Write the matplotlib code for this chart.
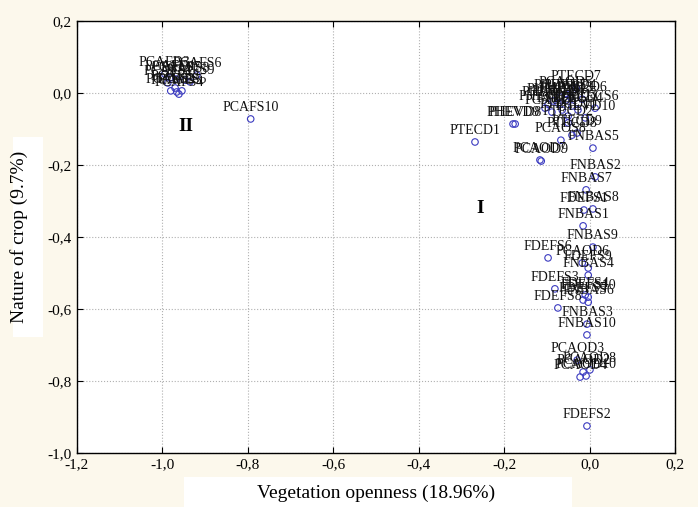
import numpy as np
import matplotlib.pyplot as plt
from matplotlib.patches import Rectangle
from matplotlib.ticker import FuncFormatter, MultipleLocator

plt.rcParams['font.family'] = ['Liberation Serif', 'DejaVu Serif']

# ---- data (scores) ----
# group II (left cluster)
labels_2 = ['PCAFS1', 'PCAFS2', 'PCAFS3', 'PCAFS4', 'PCAFS5', 'PCAFS7',
            'PCAFS8', 'PCAFS9', 'PCAFD1', 'PCAFD3', 'PCAFD5', 'PCAFS6', 'PCAFS10']
x_2 = [-0.987, -0.980, -0.970, -0.961, -0.954, -0.968,
       -0.947, -0.935, -0.982, -0.994, -0.966, -0.919, -0.793]
y_2 = [0.028, 0.006, 0.014, -0.003, 0.006, 0.039,
       0.036, 0.031, 0.042, 0.053, 0.003, 0.050, -0.072]

# group I, upper part
labels_1a = ['PTECD7', 'PCAOD5', 'PTECD6', 'PHEVD5', 'PHEVD1', 'PHEVD2',
             'PHEVD3', 'PHEVD4', 'PHEVD6', 'PTECS6', 'PHEVD10', 'PTECD3',
             'PTECD4', 'PTECD5', 'PCAOD1', 'PTECD10', 'PHEVD7', 'PHEVD8',
             'PHEVD9', 'PTECD2', 'PTECD8', 'PTECD9', 'PCAOS8', 'PTECD1',
             'PCAOD9', 'PCAOD7', 'FNBAS5']
x_1a = [-0.031, -0.055, -0.017, -0.069, -0.085, -0.097,
        -0.055, -0.045, -0.074, 0.013, -0.010, -0.041,
        -0.027, -0.064, -0.088, -0.050, -0.104, -0.174,
        -0.179, -0.050, -0.041, -0.029, -0.067, -0.268,
        -0.113, -0.116, 0.008]
y_1a = [0.014, -0.003, -0.017, -0.011, -0.022, -0.031,
        -0.019, -0.011, -0.028, -0.042, -0.069, -0.036,
        -0.047, -0.047, -0.053, -0.064, -0.042, -0.086,
        -0.086, -0.083, -0.117, -0.111, -0.131, -0.136,
        -0.189, -0.186, -0.153]

# group I, lower part
labels_1b = ['FNBAS2', 'FNBAS7', 'FDEFS1', 'FNBAS8', 'FNBAS1', 'FNBAS9',
             'FDEFS6', 'PCAOD6', 'FDEFS9', 'FNBAS4', 'FDEFS3', 'FDEFS4',
             'FDEFS5', 'FDEFS10', 'FNBAS6', 'FDEFS8', 'FNBAS3', 'FNBAS10',
             'PCAOD3', 'PCAOD2', 'PCAOD8', 'PCAOD4', 'PCAOD10', 'FDEFS2']
x_1b = [0.013, -0.008, -0.013, 0.008, -0.015, 0.008,
        -0.097, -0.017, -0.003, -0.003, -0.081, -0.010,
        -0.015, -0.003, -0.003, -0.074, -0.006, -0.006,
        -0.029, -0.015, 0.001, -0.022, -0.008, -0.006]
y_1b = [-0.233, -0.269, -0.325, -0.322, -0.369, -0.428,
        -0.458, -0.472, -0.486, -0.506, -0.544, -0.561,
        -0.575, -0.567, -0.581, -0.597, -0.642, -0.672,
        -0.742, -0.775, -0.769, -0.789, -0.786, -0.925]

labels = labels_2 + labels_1a + labels_1b
xs = x_2 + x_1a + x_1b
ys = y_2 + y_1a + y_1b

group_names = ['II', 'I']
group_x = [-0.945, -0.256]
group_y = [-0.094, -0.322]

bg = '#fcf8ec'
fig = plt.figure(figsize=(6.98, 5.07), dpi=100, facecolor=bg)

# white panels behind the axis titles
for r in [(0.264, 0.0, 0.556, 0.059), (0.019, 0.335, 0.042, 0.395)]:
    fig.add_artist(Rectangle(r[:2], r[2], r[3], transform=fig.transFigure,
                             facecolor='white', edgecolor='none', zorder=-5))

ax = fig.add_axes([0.110, 0.1065, 0.857, 0.852])
ax.set_facecolor('white')

ax.scatter(xs, ys, s=22, facecolors='none', edgecolors='#3a3ac0', linewidths=0.8, zorder=3)
for lab, x, y in zip(labels, xs, ys):
    ax.annotate(lab, (x, y), xytext=(0, 3.5), textcoords='offset points',
                ha='center', va='bottom', fontsize=10, color='#111111', zorder=4)

for name, x, y in zip(group_names, group_x, group_y):
    ax.text(x, y, name, fontsize=14, fontweight='bold', ha='center', va='center')

ax.set_xlim(-1.2, 0.2)
ax.set_ylim(-1.0, 0.2)
ax.xaxis.set_major_locator(MultipleLocator(0.2))
ax.yaxis.set_major_locator(MultipleLocator(0.2))
fmt = FuncFormatter(lambda v, p: f'{v:.1f}'.replace('.', ',').replace('-0,0', '0,0'))
ax.xaxis.set_major_formatter(fmt)
ax.yaxis.set_major_formatter(fmt)
ax.tick_params(direction='in', top=True, right=True, length=4, width=0.8, labelsize=11)
ax.grid(True, color='#b0b0b0', linestyle=':', linewidth=0.8)
ax.set_axisbelow(True)
for sp in ax.spines.values():
    sp.set_linewidth(1.0)
    sp.set_color('black')

ax.set_xlabel('Vegetation openness (18.96%)', fontsize=14, labelpad=10)
ax.set_ylabel('Nature of crop (9.7%)', fontsize=14, labelpad=14)

fig.savefig('out.png', dpi=100, facecolor=bg)
